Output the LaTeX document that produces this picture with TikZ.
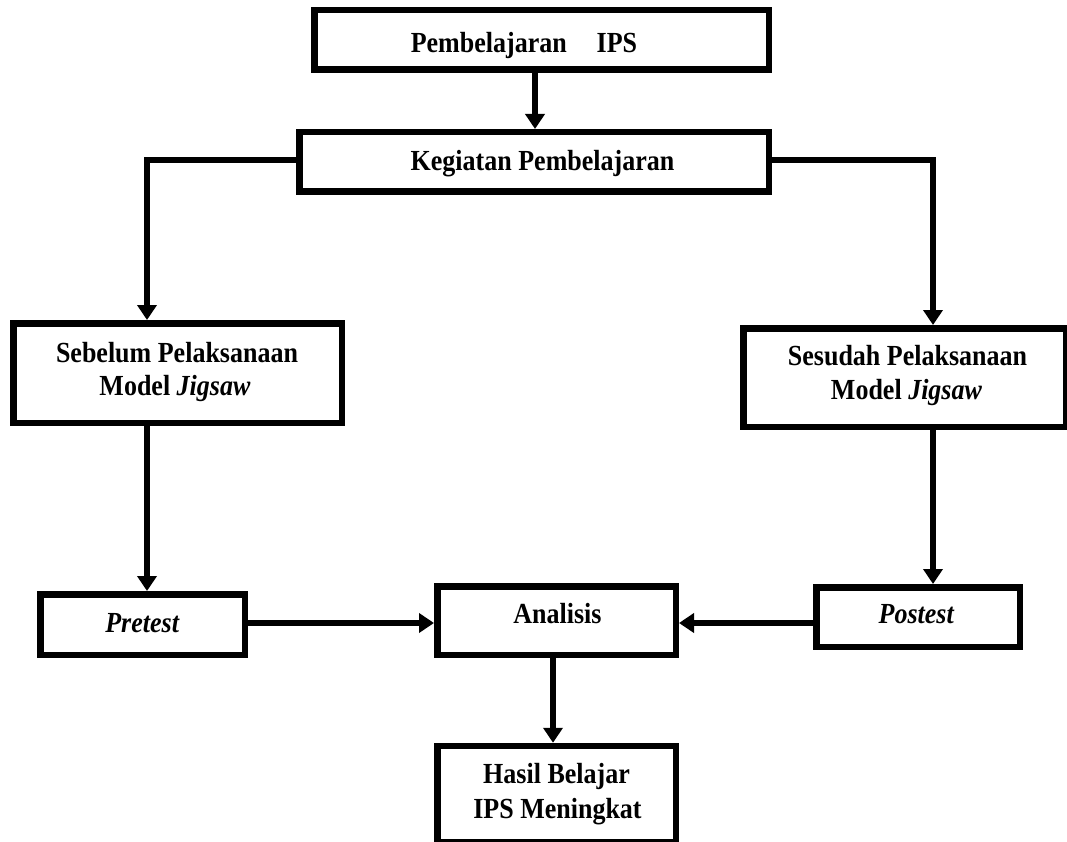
\documentclass[tikz,border=0pt]{standalone}
\usepackage{fontspec}
\usepackage{graphicx}
\setmainfont{Liberation Serif}
\usetikzlibrary{arrows.meta,calc}
\newcommand{\vstretch}[1]{\scalebox{1}[1.12]{#1}}
\begin{document}
\begin{tikzpicture}[x=1pt,y=-1pt,
  box/.style={draw,line width=6.5pt,rectangle,inner sep=0pt},
  txt/.style={font=\fontsize{26}{33}\selectfont\bfseries,inner sep=0pt,anchor=base},
  arr/.style={line width=6.5pt,-{Triangle[width=19pt,length=15pt]}}]
\useasboundingbox (0,0) rectangle (1067,842);
% boxes
\node[box,minimum width=454.5pt,minimum height=59.5pt] (top) at (541.5,40) {};
\node[box,minimum width=469.5pt,minimum height=59.5pt] (keg) at (534,162) {};
\node[box,minimum width=328.5pt,minimum height=99.5pt] (seb) at (177.5,373) {};
\node[box,minimum width=322.5pt,minimum height=98.5pt] (ses) at (904.5,377.5) {};
\node[box,minimum width=204.5pt,minimum height=60.5pt] (pre) at (142.5,624.5) {};
\node[box,minimum width=203.5pt,minimum height=59.5pt] (post) at (918,617) {};
\node[box,minimum width=238.5pt,minimum height=68.5pt] (ana) at (556.5,620.5) {};
\node[box,minimum width=238.5pt,minimum height=96pt] (hasil) at (556.5,794) {};
% texts
\node[txt] (ttop) at (524,53) {\vstretch{Pembelajaran\hspace{30pt}IPS}};
\node[txt] (tkeg) at (542.5,171) {\vstretch{Kegiatan Pembelajaran}};
\node[txt] (tseb1) at (177,362) {\vstretch{Sebelum Pelaksanaan}};
\node[txt] (tseb2) at (175,395) {\vstretch{Model \textit{Jigsaw}}};
\node[txt] (tses1) at (907.5,365) {\vstretch{Sesudah Pelaksanaan}};
\node[txt] (tses2) at (906.5,399) {\vstretch{Model \textit{Jigsaw}}};
\node[txt] (tpre) at (142.5,632) {\vstretch{\textit{Pretest}}};
\node[txt] (tpost) at (916.5,623) {\vstretch{\textit{Postest}}};
\node[txt] (tana) at (557.5,623) {\vstretch{Analisis}};
\node[txt] (thas1) at (556.5,783) {\vstretch{Hasil Belajar}};
\node[txt] (thas2) at (557.5,818) {\vstretch{IPS Meningkat}};
% connectors
\coordinate (a1) at ([xshift=-6.5pt]top.south);
\draw[arr] (a1) -- (a1 |- keg.north);
\coordinate (a2) at ([xshift=-30.5pt]seb.north);
\draw[arr] ([yshift=2pt]keg.west) -| (a2);
\coordinate (a3) at ([xshift=28.5pt]ses.north);
\draw[arr] ([yshift=2pt]keg.east) -| (a3);
\coordinate (a4) at ([xshift=-30.5pt]seb.south);
\draw[arr] (a4) -- (a4 |- pre.north);
\coordinate (a5) at ([xshift=28.5pt]ses.south);
\draw[arr] (a5) -- (a5 |- post.north);
\coordinate (a6) at ([yshift=1.5pt]pre.east);
\draw[arr] (a6) -- (a6 -| ana.west);
\draw[arr] (post.west |- a6) -- (ana.east |- a6);
\coordinate (a7) at ([xshift=-3.5pt]ana.south);
\draw[arr] (a7) -- (a7 |- hasil.north);
\end{tikzpicture}
\end{document}
